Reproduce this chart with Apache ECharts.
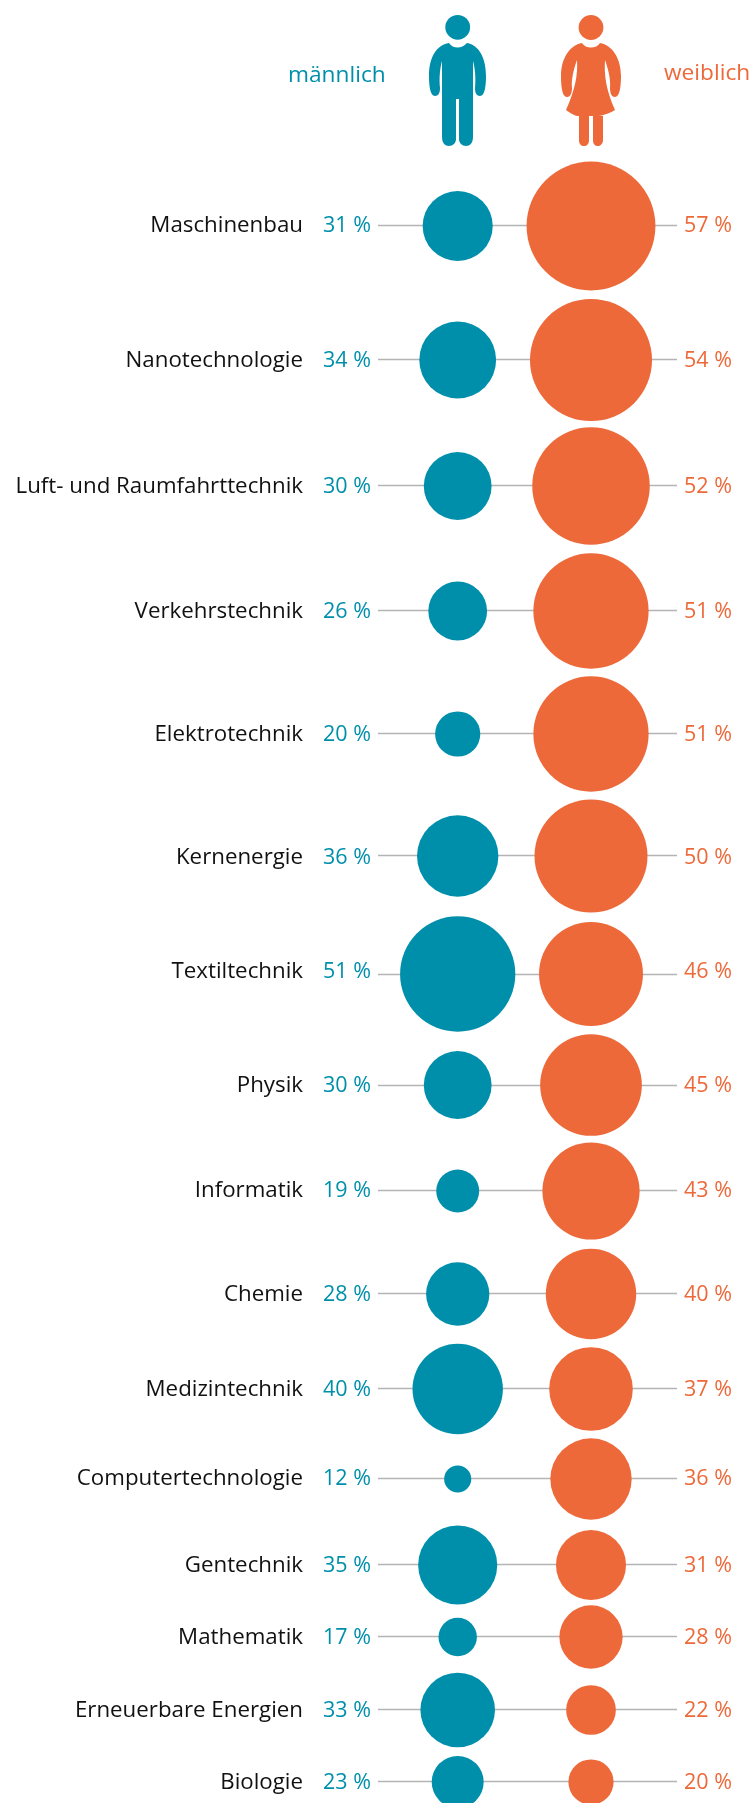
<!DOCTYPE html>
<html><head><meta charset="utf-8">
<style>html,body{margin:0;background:#fff}#c{width:754px;height:1803px}</style>
<script src="https://cdn.jsdelivr.net/npm/echarts@6/dist/echarts.min.js"></script>
</head><body><div id="c"></div>
<script>
const categories=['Maschinenbau','Nanotechnologie','Luft- und Raumfahrttechnik','Verkehrstechnik','Elektrotechnik','Kernenergie','Textiltechnik','Physik','Informatik','Chemie','Medizintechnik','Computertechnologie','Gentechnik','Mathematik','Erneuerbare Energien','Biologie'];
const maleValues=[31,34,30,26,20,36,51,30,19,28,40,12,35,17,33,23];
const femaleValues=[57,54,52,51,51,50,46,45,43,40,37,36,31,28,22,20];
const rowY=[226,360,486,611,734,856,974,1085,1191,1294,1389,1479,1565,1637,1710,1782];
const textY=[226,361,487,612,735,858,972,1086,1191,1295,1390,1479,1566,1638,1711,1783];
const lineY=[225,359,485,610,733,855,974,1085,1190,1293,1388,1478,1564,1636,1709,1781];
const X={line0:378,line1:677,name:303,mv:371,fv:732,m:457.7,f:591};
const font='"Open Sans"', BLUE='#008fab', ORANGE='#ed693a';
const K=2.26;
const pts=(x,v)=>v.map((d,i)=>({value:[x,rowY[i]],raw:d}));
function textSeries(x,color,size,fmt){return {type:'scatter',symbolSize:0,silent:true,z:5,itemStyle:{opacity:1},
  data:categories.map((c,i)=>({value:[x,textY[i]],raw:fmt(i)})),
  label:{show:true,position:'left',distance:0,color,opacity:1,fontFamily:font,fontSize:size,formatter:p=>p.data.raw}}}
function bubble(x,v,color){return {type:'scatter',silent:true,z:3,data:pts(x,v),symbolSize:(val,p)=>p.data.raw*K,itemStyle:{color,opacity:1}}}
function icon(x,y,w,h,d,color){return {type:'scatter',silent:true,z:4,symbol:'path://'+d,symbolSize:[w,h],data:[[x,y]],itemStyle:{color,opacity:1}}}
const chart=echarts.init(document.getElementById('c'),null,{renderer:'canvas'});
const head=(cx,cy,r,fill)=>({type:'circle',shape:{cx,cy,r},style:{fill}});
chart.setOption({animation:false,backgroundColor:'#fff',
 grid:{left:0,right:0,top:0,bottom:0},
 xAxis:{type:'value',min:0,max:754,show:false},
 yAxis:{type:'value',min:0,max:1803,inverse:true,show:false},
 series:[
  {type:'scatter',data:[],silent:true,z:1,markLine:{z:1,silent:true,symbol:'none',animation:false,label:{show:false},lineStyle:{color:'#b4b4b4',width:1.4,type:'solid'},
    data:lineY.map(y=>[{coord:[X.line0,y]},{coord:[X.line1,y]}])}},
  bubble(X.m,maleValues,BLUE),bubble(X.f,femaleValues,ORANGE),
  textSeries(X.name,'#111',22.3,i=>categories[i]),
  textSeries(X.mv,BLUE,21.5,i=>maleValues[i]+' %'),
  textSeries(X.fv,ORANGE,21.5,i=>femaleValues[i]+' %'),
  icon(457.5,94.5,57,103,'M449 43 C451 46 454 47.5 457.7 47.5 C461 47.5 464 46 467 43 C479 45 486 58 486 76 C486 85 485 96 480 96 C476 96 475 92 475 88 C476 78 475 68 473 61 L473 137 C473 143 470 146 466 146 C462 146 459 143 459 139 L459 99 L456 99 L456 139 C456 143 453 146 449 146 C445 146 442 143 442 137 L442 61 C440 68 439 78 440 88 C440 92 439 96 435 96 C430 96 429 85 429 76 C429 58 436 45 449 43 Z',BLUE),
  icon(591,94.5,60,103,'M582 43 C584 46 587 47.5 591 47.5 C595 47.5 598 46 600 43 C612 45 621 58 621 76 C621 85 620 97 615 97 C611 97 610 92 610 88 C611 80 608 68 605 60 C604 75 606 90 615 110 C608 114 601 116 597 116 L603 116 L603 140 C603 144 600 146 598 146 C595 146 593 144 593 140 L593 116 L589 116 L589 140 C589 144 587 146 584 146 C581 146 579 144 579 140 L579 116 C575 116 572 114 566 110 C575 90 578 75 577 60 C574 68 571 80 572 88 C572 92 571 97 567 97 C562 97 561 85 561 76 C561 58 570 45 582 43 Z',ORANGE)
 ],
 graphic:[
  {type:'text',x:288,y:64,style:{text:'männlich',fill:BLUE,font:'22.7px '+font}},
  {type:'text',x:664,y:62,style:{text:'weiblich',fill:ORANGE,font:'22.7px '+font}},
  head(457.7,27.3,12.4,BLUE),head(591,27.5,12.4,ORANGE)
 ]
});
</script></body></html>
